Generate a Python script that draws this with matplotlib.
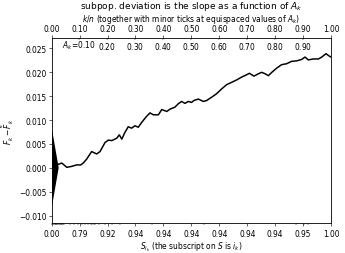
import matplotlib
matplotlib.use("Agg")
import matplotlib.pyplot as plt
from matplotlib.ticker import FixedFormatter, FixedLocator

# ---- data ----
kn = [0.0, 0.008, 0.018, 0.036, 0.054, 0.072, 0.089, 0.104, 0.113, 0.125, 0.143,
      0.161, 0.173, 0.191, 0.203, 0.215, 0.233, 0.242, 0.251, 0.262, 0.274,
      0.286, 0.298, 0.310, 0.322, 0.340, 0.352, 0.364, 0.382, 0.394, 0.412,
      0.424, 0.441, 0.453, 0.465, 0.477, 0.489, 0.501, 0.509, 0.525, 0.543,
      0.555, 0.573, 0.590, 0.608, 0.626, 0.644, 0.662, 0.680, 0.698, 0.708,
      0.724, 0.740, 0.752, 0.764, 0.776, 0.788, 0.806, 0.823, 0.841, 0.859,
      0.877, 0.895, 0.907, 0.919, 0.937, 0.955, 0.967, 0.982, 0.994, 1.0]
dev = [0.0, 0.0008, 0.0006, 0.0010, 0.0001, 0.0003, 0.0006, 0.0006, 0.0010, 0.0018,
       0.0034, 0.0029, 0.0034, 0.0053, 0.0058, 0.0057, 0.0062, 0.0069, 0.0060,
       0.0074, 0.0086, 0.0083, 0.0088, 0.0085, 0.0095, 0.0108, 0.0115, 0.0111,
       0.0111, 0.0122, 0.0118, 0.0123, 0.0127, 0.0134, 0.0139, 0.0135, 0.0139,
       0.0137, 0.0141, 0.0144, 0.0139, 0.0141, 0.0148, 0.0155, 0.0165, 0.0174,
       0.0179, 0.0184, 0.0190, 0.0195, 0.0198, 0.0192, 0.0197, 0.0200, 0.0197,
       0.0193, 0.0200, 0.0209, 0.0216, 0.0218, 0.0223, 0.0224, 0.0227, 0.0232,
       0.0226, 0.0228, 0.0228, 0.0232, 0.0239, 0.0234, 0.0232]

lenscale2 = 0.0084          # 2 * lenscale (height of the scale triangle)
head_width = 0.025          # half of fraction/20

bottom_labels = ['0.00', '0.79', '0.92', '0.94', '0.94', '0.94', '0.94',
                 '0.94', '0.94', '0.95', '1.00']
top_labels = ['0.00', '0.10', '0.20', '0.30', '0.40', '0.50', '0.60',
              '0.70', '0.80', '0.90', '1.00']
a_positions = [0.099, 0.199, 0.298, 0.398, 0.498, 0.599, 0.699, 0.799, 0.899]
a_labels = [r'$A_k\!=\!0.10$', '$0.20$', '$0.30$', '$0.40$', '$0.50$',
            '$0.60$', '$0.70$', '$0.80$', '$0.90$']
s_minor = [0.002, 0.005, 0.008, 0.011, 0.014, 0.017, 0.020, 0.023, 0.026,
           0.029, 0.032, 0.035, 0.038, 0.041, 0.044, 0.066, 0.081, 0.095,
           0.110, 0.120, 0.130, 0.141, 0.146, 0.151, 0.156, 0.171, 0.191,
           0.216, 0.245, 0.358, 0.545, 0.875, 0.905, 0.917]

DPI = 54
fig = plt.figure(figsize=(345 / DPI, 254 / DPI), dpi=DPI)
ax = fig.add_axes([51.7 / 345, 29.7 / 254, 279.3 / 345, 185.0 / 254])

ax.plot(kn, dev, 'k', lw=2.0)
ax.fill([0, head_width, 0], [lenscale2, 0, -lenscale2], color='k', lw=0)
ax.margins(x=0, y=0.1)

ax.set_xticks([i / 10 for i in range(11)])
ax.set_xticklabels(bottom_labels)
ax.set_xticks(s_minor, minor=True)
ax.set_xlabel('$S_{i_k}$ (the subscript on $S$ is $i_k$)', labelpad=2)
ax.set_ylabel(r'$F_k - \tilde{F}_k$')

ax2 = ax.twiny()
ax2.set_xlim(ax.get_xlim())
ax2.set_xticks([i / 10 for i in range(11)])
ax2.set_xticklabels(top_labels)
ax2.xaxis.set_minor_locator(FixedLocator(a_positions))
ax2.xaxis.set_minor_formatter(FixedFormatter(a_labels))
ax2.tick_params(which='minor', axis='x', top=True, direction='in', pad=-17)
ax2.set_xlabel('$k/n$ (together with minor ticks at equispaced values of $A_k$)')
ax2.set_title('subpop. deviation is the slope as a function of $A_k$')

fig.savefig('out.png', dpi=DPI)
